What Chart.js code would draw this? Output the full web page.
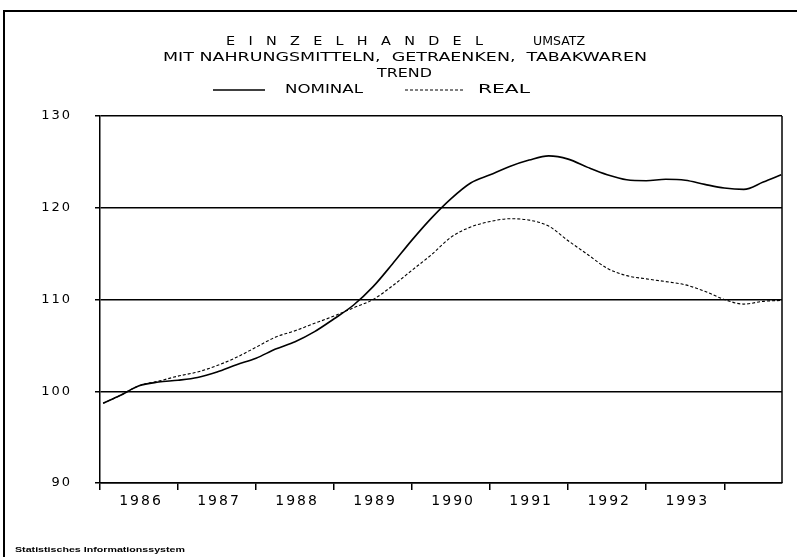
<!DOCTYPE html>
<html>
<head>
<meta charset="utf-8">
<script src="https://cdn.jsdelivr.net/npm/chart.js@4.4.1/dist/chart.umd.min.js"></script>
<style>
  html, body { margin: 0; padding: 0; background: #fff; }
  canvas { display: block; }
</style>
</head>
<body>
<canvas id="myChart" width="797" height="557" style="width:797px;height:557px"></canvas>
<script>
// time axis in decimal years
var years = [1986.04, 1986.25, 1986.5, 1986.75, 1987.0, 1987.25, 1987.5, 1987.75,
  1988.0, 1988.25, 1988.5, 1988.75, 1989.0, 1989.25, 1989.5, 1989.75,
  1990.0, 1990.25, 1990.5, 1990.75, 1991.0, 1991.25, 1991.5, 1991.75,
  1992.0, 1992.25, 1992.5, 1992.75, 1993.0, 1993.25, 1993.5, 1993.75,
  1994.0, 1994.25, 1994.5, 1994.73];
var nominal = [98.7, 99.5, 100.6, 101.0, 101.2, 101.5, 102.1, 102.9,
  103.6, 104.6, 105.4, 106.5, 107.9, 109.4, 111.4, 113.9,
  116.5, 118.9, 121.0, 122.7, 123.6, 124.5, 125.2, 125.65,
  125.3, 124.4, 123.6, 123.05, 122.95, 123.1, 123.0, 122.55,
  122.15, 122.0, 122.8, 123.6];
var real = [98.7, 99.5, 100.6, 101.1, 101.65, 102.1, 102.8, 103.7,
  104.8, 105.9, 106.6, 107.4, 108.2, 109.1, 110.0, 111.5,
  113.2, 114.9, 116.8, 117.9, 118.5, 118.8, 118.65, 118.0,
  116.4, 114.9, 113.4, 112.6, 112.25, 111.95, 111.6, 110.9,
  110.0, 109.5, 109.8, 109.9];
var yearLabels = ['1986', '1987', '1988', '1989', '1990', '1991', '1992', '1993'];

var titleFont = '12px "DejaVu Sans"';

function points(vals) {
  var out = [];
  for (var i in years) {
    out.push({x: years[i], y: vals[i]});
  }
  return out;
}

// draw text between x1 and x2; stretch widens glyphs, the rest goes into letter spacing
function fitText(ctx, text, x1, x2, y, font, stretch) {
  ctx.save();
  ctx.font = font;
  ctx.letterSpacing = '0px';
  var w = ctx.measureText(text).width;
  var k, sp = 0;
  if (stretch) {
    k = stretch;
    sp = ((x2 - x1) / k - w) / (text.length - 1);
  } else {
    k = (x2 - x1) / w;
  }
  ctx.translate(x1, y);
  ctx.scale(k, 1);
  ctx.letterSpacing = sp + 'px';
  ctx.fillStyle = '#000';
  ctx.textAlign = 'left';
  ctx.textBaseline = 'middle';
  ctx.fillText(text, 0, 0);
  ctx.restore();
}

var decor = {
  id: 'decor',
  beforeDraw: function(chart) {
    chart.ctx.letterSpacing = '2px';
  },
  afterDraw: function(chart) {
    var ctx = chart.ctx;
    var a = chart.chartArea;
    ctx.save();
    ctx.letterSpacing = '0px';
    ctx.strokeStyle = '#000';
    // right side of plot box
    ctx.lineWidth = 1.5;
    ctx.beginPath();
    ctx.moveTo(a.right, a.top);
    ctx.lineTo(a.right, a.bottom);
    ctx.stroke();
    // page frame
    ctx.lineWidth = 2;
    ctx.beginPath();
    ctx.moveTo(797, 11);
    ctx.lineTo(4, 11);
    ctx.lineTo(4, 557);
    ctx.stroke();
    // legend lines
    var ds = chart.data.datasets;
    ctx.lineWidth = ds[0].borderWidth;
    ctx.setLineDash([]);
    ctx.beginPath();
    ctx.moveTo(213, 90);
    ctx.lineTo(265, 90);
    ctx.stroke();
    ctx.lineWidth = ds[1].borderWidth;
    ctx.setLineDash(ds[1].borderDash);
    ctx.beginPath();
    ctx.moveTo(405, 90);
    ctx.lineTo(463, 90);
    ctx.stroke();
    ctx.restore();

    fitText(ctx, 'EINZELHANDEL', 226, 483, 42, titleFont, 1.2);
    fitText(ctx, 'UMSATZ', 533, 585, 42, titleFont);
    fitText(ctx, 'MIT NAHRUNGSMITTELN,  GETRAENKEN,  TABAKWAREN', 163, 647, 58, titleFont);
    fitText(ctx, 'TREND', 377, 432, 74, titleFont);
    fitText(ctx, ds[0].label, 285, 363, 90, titleFont);
    fitText(ctx, ds[1].label, 478, 530, 90, titleFont);
    fitText(ctx, 'Statistisches Informationssystem', 15, 185, 550, 'bold 8px "Liberation Sans"');
  }
};

var config = {
  type: 'line',
  data: {
    datasets: [{
      label: 'NOMINAL',
      data: points(nominal),
      borderColor: '#000',
      borderWidth: 1.6,
      pointRadius: 0,
      cubicInterpolationMode: 'monotone',
      fill: false
    }, {
      label: 'REAL',
      data: points(real),
      borderColor: '#000',
      borderWidth: 1.1,
      borderDash: [3, 2],
      pointRadius: 0,
      cubicInterpolationMode: 'monotone',
      fill: false
    }]
  },
  options: {
    responsive: false,
    animation: false,
    layout: { padding: { top: 116, right: 15, left: 0, bottom: 0 } },
    plugins: {
      legend: { display: false },
      title: { display: false },
      tooltip: { enabled: false }
    },
    scales: {
      x: {
        type: 'linear',
        min: 1986,
        max: 1994.74,
        afterFit: function(scale) { scale.height = 74; },
        grid: {
          drawOnChartArea: false,
          drawTicks: true,
          tickLength: 7,
          color: '#000',
          lineWidth: 1.5
        },
        border: { display: true, color: '#000', width: 1.5 },
        ticks: {
          stepSize: 1,
          includeBounds: false,
          autoSkip: false,
          maxRotation: 0,
          labelOffset: 41,
          padding: 3,
          color: '#000',
          font: { family: 'DejaVu Sans', size: 14 },
          callback: function(value) {
            var k = Math.round(value) - 1986;
            if (Math.abs(value - Math.round(value)) > 1e-6) return '';
            return yearLabels[k] || '';
          }
        }
      },
      y: {
        min: 90,
        max: 130,
        afterFit: function(scale) { scale.width = 100; },
        grid: {
          color: '#000',
          lineWidth: 1.5,
          tickLength: 5
        },
        border: { display: true, color: '#000', width: 1.5 },
        ticks: {
          stepSize: 10,
          padding: 23,
          color: '#000',
          font: { family: 'DejaVu Sans', size: 13 }
        }
      }
    }
  },
  plugins: [decor]
};

var myChart = new Chart(document.getElementById('myChart'), config);
</script>
</body>
</html>
